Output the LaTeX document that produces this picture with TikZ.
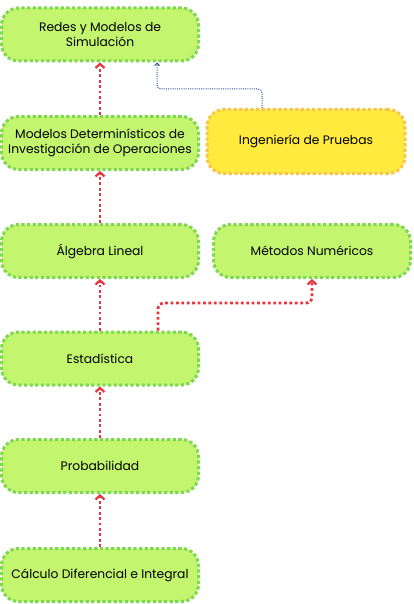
\documentclass[tikz,border=0pt]{standalone}
\usepackage{fontspec}
\setmainfont{Poppins}
\usetikzlibrary{arrows.meta}
\definecolor{boxfill}{HTML}{C3F56F}
\definecolor{boxline}{HTML}{80D852}
\definecolor{yfill}{HTML}{FFEA3D}
\definecolor{yline}{HTML}{F7C548}
\definecolor{redar}{HTML}{E8363F}
\definecolor{bluear}{HTML}{2B4C8C}
\tikzset{
  x=1pt,y=-1pt,
  gbox/.style={draw=boxline,fill=boxfill,line width=3pt,dash pattern=on 3.3pt off 2.3pt,rounded corners=17pt,
    minimum width=197pt,minimum height=53pt,align=center,font=\fontsize{12.3}{15.5}\selectfont,inner sep=2pt},
  ybox/.style={gbox,draw=yline,fill=yfill,minimum height=64pt,minimum width=198pt},
  rarrow/.style={draw=redar,line width=2.8pt,dash pattern=on 2.8pt off 2.6pt,rounded corners=5pt,
    -{Straight Barb[length=4pt,width=9pt,line width=2.2pt]}},
  barrow/.style={draw=bluear,line width=1pt,dash pattern=on 1pt off 1.2pt,rounded corners=4pt,
    -{Straight Barb[length=2.5pt,width=5pt,line width=0.9pt]}}
}
\begin{document}
\begin{tikzpicture}
\useasboundingbox (0,0) rectangle (413,604);
\node[gbox] (redes) at (100,34.5) {Redes y Modelos de\\Simulación};
\node[gbox] (modelos) at (100,143) {Modelos Determinísticos de\\Investigación de Operaciones};
\node[ybox] (ing) at (306,141.5) {Ingeniería de Pruebas};
\node[gbox] (alg) at (100,251) {Álgebra Lineal};
\node[gbox] (met) at (312,251) {Métodos Numéricos};
\node[gbox] (est) at (100,358.5) {Estadística};
\node[gbox] (prob) at (100,466) {Probabilidad};
\node[gbox] (calc) at (100,575) {Cálculo Diferencial e Integral};
\draw[rarrow] (modelos.north) -- (redes.south);
\draw[rarrow] (alg.north) -- (modelos.south);
\draw[rarrow] (est.north) -- (alg.south);
\draw[rarrow] (prob.north) -- (est.south);
\draw[rarrow] (calc.north) -- (prob.south);
\coordinate (ea) at (158,0);
\draw[rarrow] (ea |- est.north) -- (158,303) -- (312,303) -- (met.south);
\draw[barrow] (262,0 |- ing.north) -- (262,89) -- (157,89) -- (157,0 |- redes.south);
\end{tikzpicture}
\end{document}
